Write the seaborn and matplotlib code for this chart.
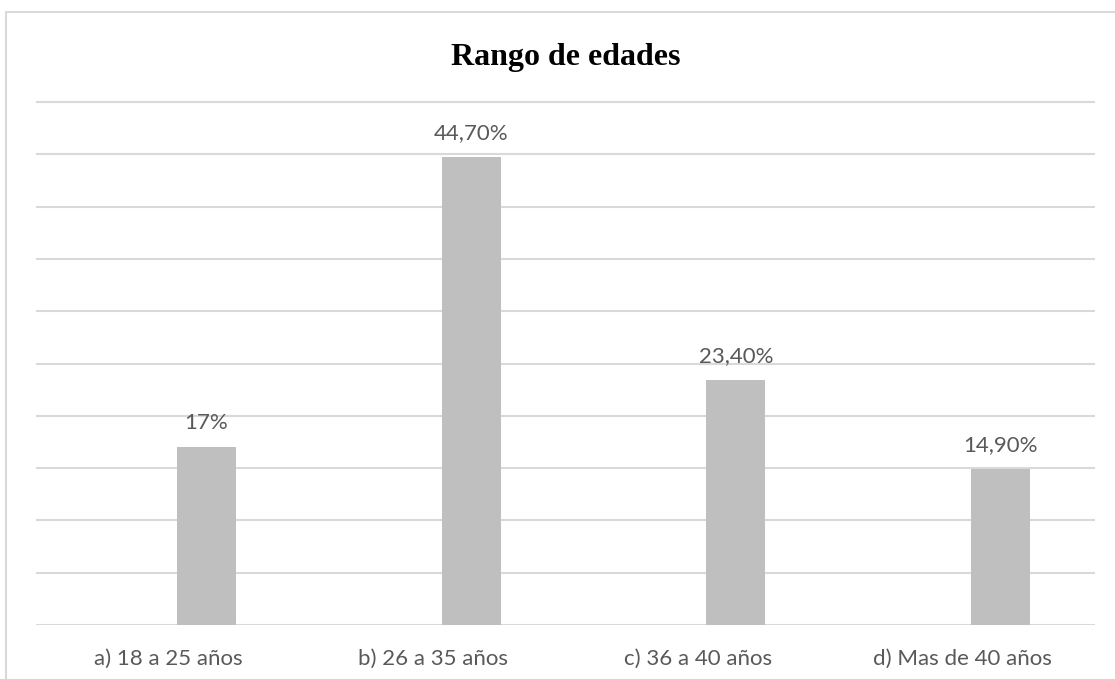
import matplotlib
matplotlib.use("Agg")
import matplotlib.pyplot as plt
from matplotlib.patches import Rectangle
import seaborn as sns
import pandas as pd

# Age ranges and share of respondents (%)
categories = ["a) 18 a 25 años", "b) 26 a 35 años", "c) 36 a 40 años", "d) Mas de 40 años"]
values = [17.0, 44.7, 23.4, 14.9]
value_labels = ["17%", "44,70%", "23,40%", "14,90%"]
title = "Rango de edades"

W, H, DPI = 1115, 679, 100
sns.set_theme(style="white")
plt.rcParams["font.family"] = ["Lato", "DejaVu Sans"]

fig = plt.figure(figsize=(W / DPI, H / DPI), dpi=DPI)
fig.patch.set_facecolor("white")

# plot area in pixels
left_px, right_px, base_px, px_per_unit = 36, 1095, 625, 10.46
ymax = 51
top_px = base_px - ymax * px_per_unit
ax = fig.add_axes([left_px / W, (H - base_px) / H,
                   (right_px - left_px) / W, (base_px - top_px) / H])

# bars sit slightly right of each category centre
offset = 0.1435
df = pd.DataFrame({"pos": [i + offset for i in range(len(categories))], "valor": values})
sns.barplot(data=df, x="pos", y="valor", native_scale=True, width=0.223,
            color="#BFBFBF", saturation=1, edgecolor="none", linewidth=0, ax=ax, zorder=2)

ax.set_xlim(-0.5, len(categories) - 0.5)
ax.set_ylim(0, ymax)
ax.set_yticks(range(0, 51, 5))
ax.yaxis.grid(True, color="#D9D9D9", linewidth=1.5, zorder=1)
ax.set_axisbelow(True)
ax.tick_params(axis="y", left=False, labelleft=False)
ax.set_xticks(range(len(categories)))
ax.set_xticklabels(categories, color="#595959", fontsize=16)
ax.tick_params(axis="x", bottom=False, pad=11)
ax.set_xlabel("")
ax.set_ylabel("")
for s in ax.spines.values():
    s.set_visible(False)
ax.patch.set_alpha(0)

for bar, lab in zip(ax.patches, value_labels):
    ax.annotate(lab, (bar.get_x() + bar.get_width() / 2, bar.get_height()),
                xytext=(0, 10), textcoords="offset points", ha="center", va="bottom",
                color="#595959", fontsize=16)

fig.text(565.5 / W, 1 - 65 / H, title, ha="center", va="baseline",
         fontsize=23, fontweight="bold", family="Liberation Serif", color="black")

# chart frame
fig.patches.append(Rectangle((6 / W, -0.1), 1.2, 1 - 12 / H + 0.1, transform=fig.transFigure,
                             fill=False, edgecolor="#D9D9D9", linewidth=1.5))

fig.savefig("out.png", dpi=DPI, facecolor="white")
